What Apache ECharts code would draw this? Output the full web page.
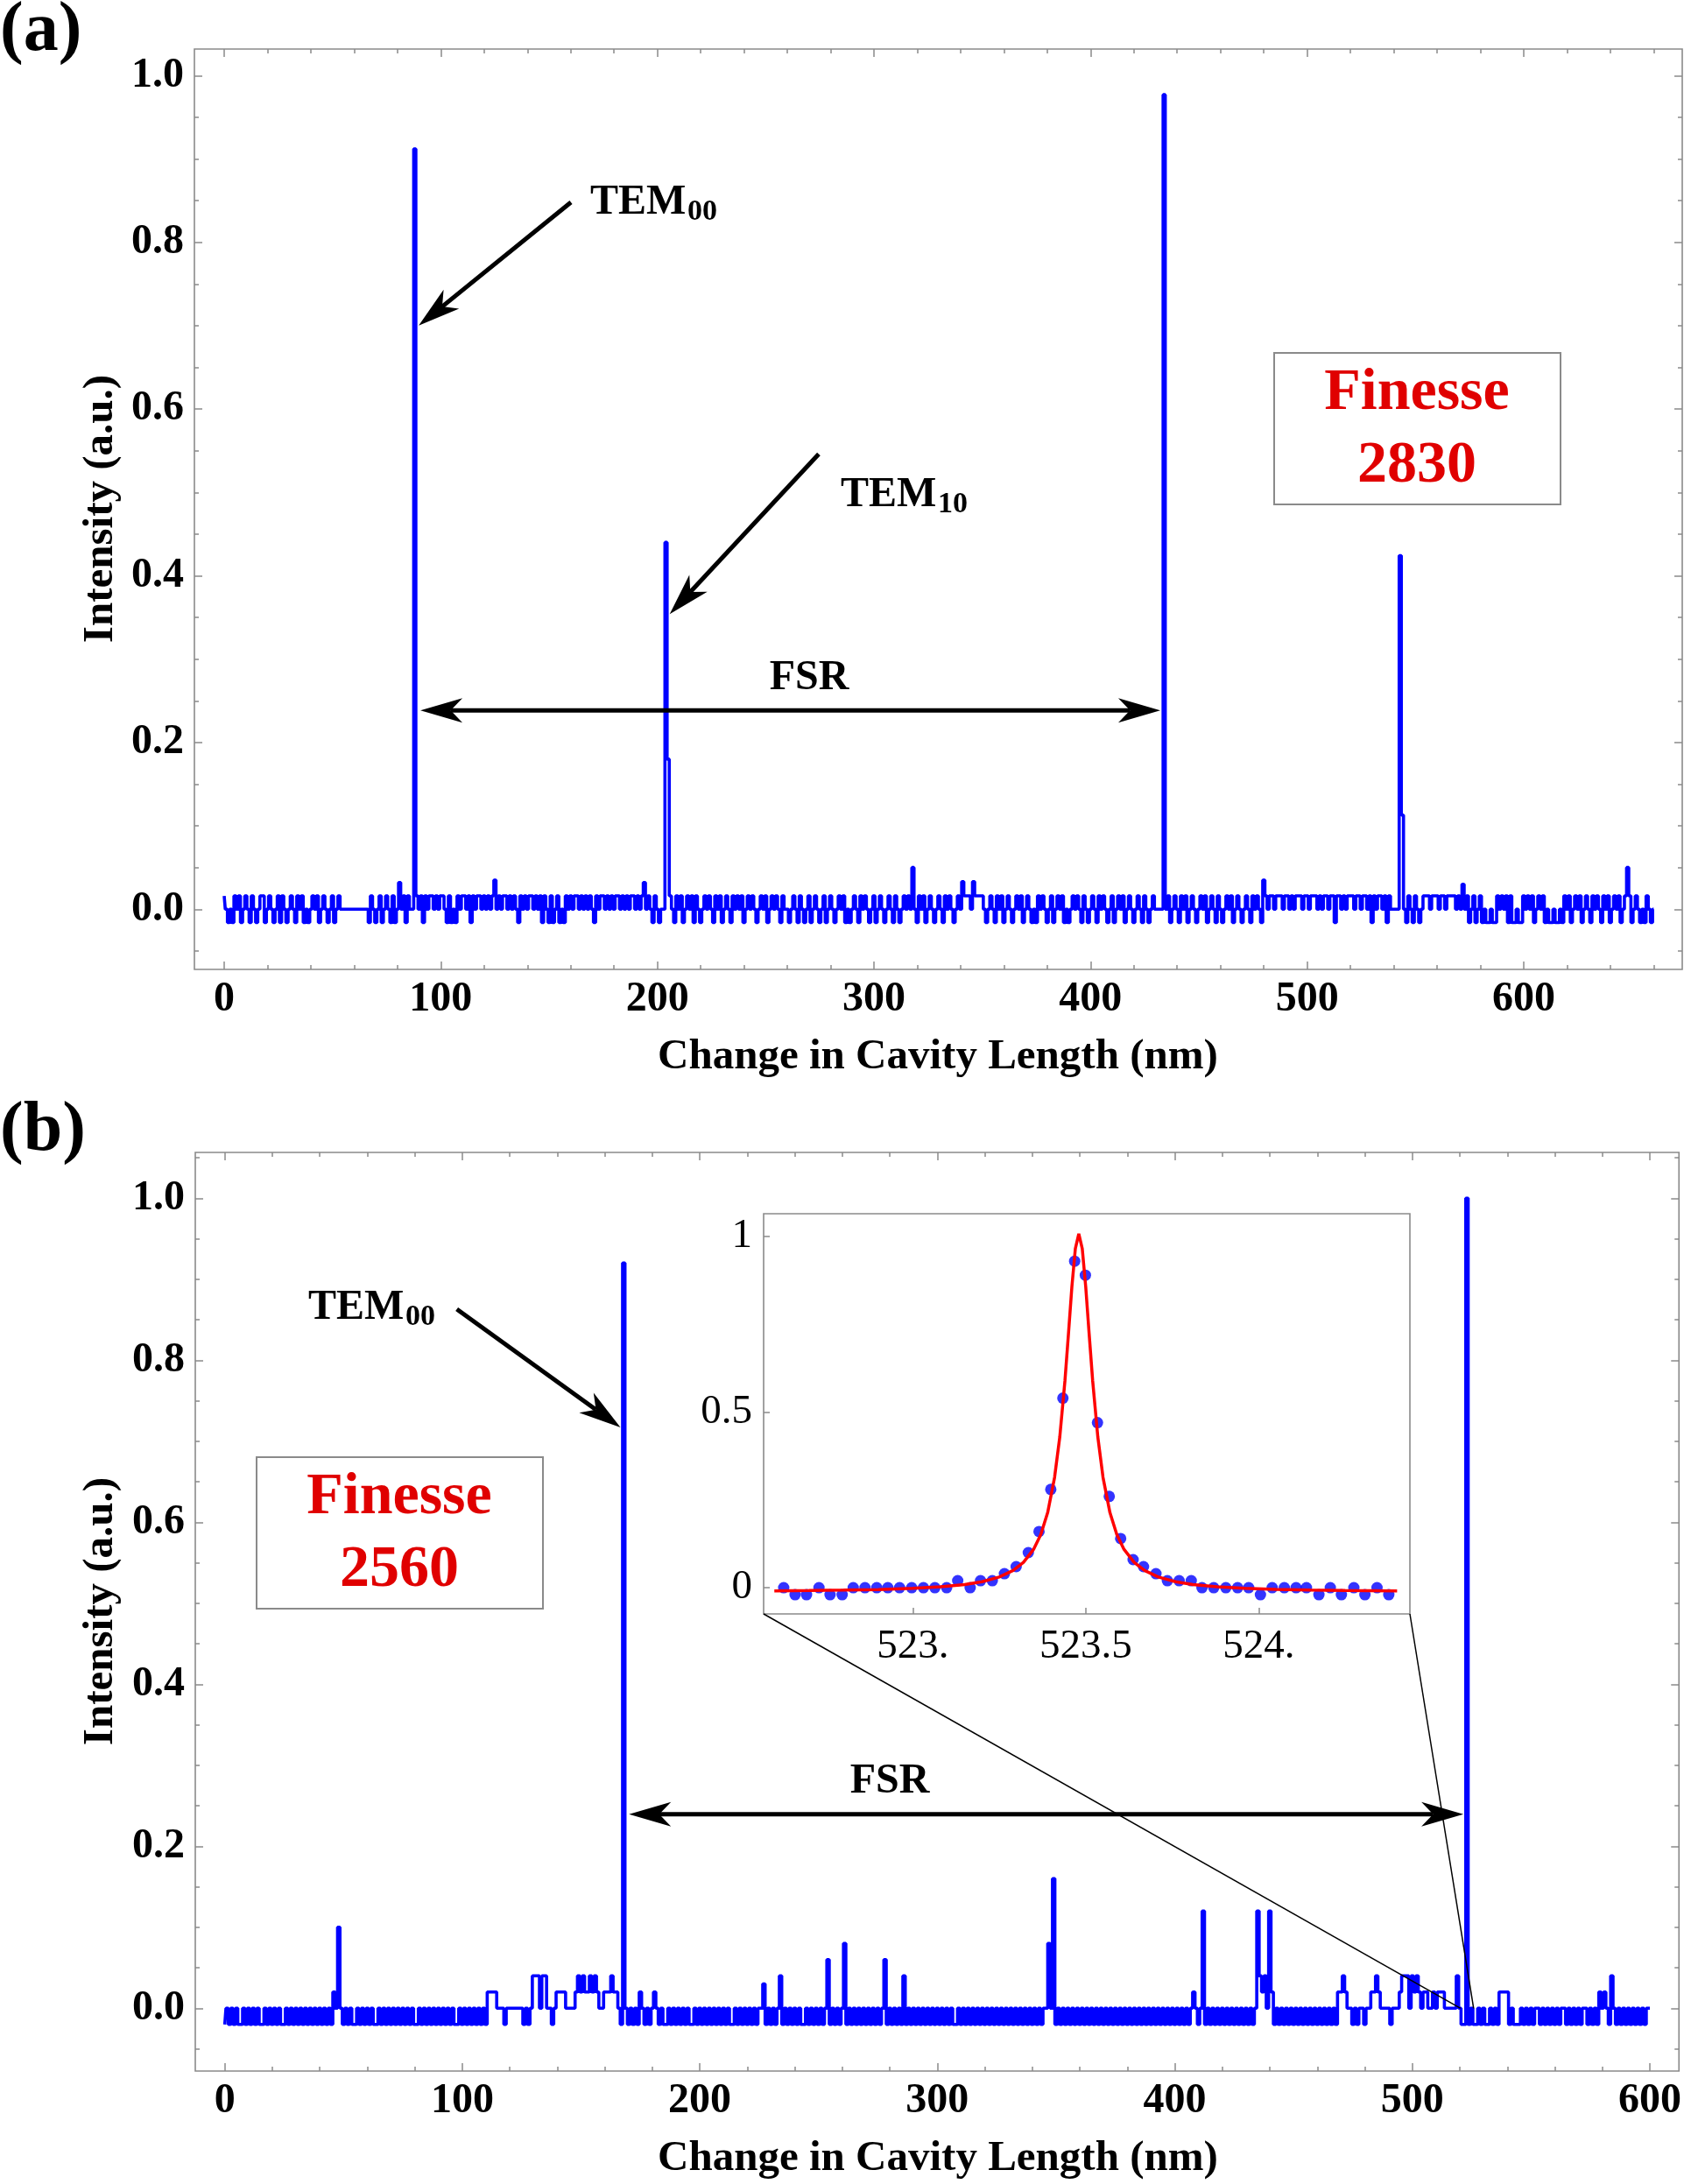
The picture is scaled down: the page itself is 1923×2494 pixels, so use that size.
<!DOCTYPE html>
<html><head><meta charset="utf-8">
<script src="https://cdn.jsdelivr.net/npm/echarts@6/dist/echarts.min.js"></script>
<style>html,body{margin:0;padding:0;background:#fff}#c{width:1923px;height:2494px}</style>
</head><body><div id="c"></div>
<script>
// ================= DATA =================
// tick values
const xMajorA = [0, 100, 200, 300, 400, 500, 600];
const xMinorA = [20,40,60,80,120,140,160,180,220,240,260,280,320,340,360,380,420,440,460,480,520,540,560,580,620,640,660];
const xMajorB = [0, 100, 200, 300, 400, 500, 600];
const xMinorB = [20,40,60,80,120,140,160,180,220,240,260,280,320,340,360,380,420,440,460,480,520,540,560,580];
const yMajor = [0, 0.2, 0.4, 0.6, 0.8, 1.0];
const yMinorA = [-0.05,0.05,0.1,0.15,0.25,0.3,0.35,0.45,0.5,0.55,0.65,0.7,0.75,0.85,0.9,0.95];
const yMinorB = [-0.05,0.05,0.1,0.15,0.25,0.3,0.35,0.45,0.5,0.55,0.65,0.7,0.75,0.85,0.9,0.95,1.05];
const xTicksInset = [523, 523.5, 524];
const yTicksInset = [0, 0.5, 1];

// panel (a): detector noise levels (one char per nm) and peaks
const levelsA = { '0': 0, '+': 0.016, '-': -0.016 };
const noiseA = [
  [0,   "+0-0-+0+-0+0-+0-0++-0+0-0+-+0-0+0-+0+-0-0+0+-0+0-0+-0+0"],
  [66,  "0-+0-0+-0+0-+-0+"],
  [82,  "0+-+0"],
  [89,  "+0+"], [92, "-"], [93, "+0++0+0++0"], [103, "-+-0-+"], [109, "0++0+"], [114, "-"],
  [115, "+0++0+0+0++0+0++0+0+0"], [136, "-"], [137, "+0+0++0+0+"], [147, "-+0-+-0+-0-"],
  [158, "+0+0++0+0+0+0"], [171, "-"], [172, "+0++0+0+0++0+0+0++0+0+"], [195, "0+0-+0-0"],
  [206, "+0-+0+-0+0+-+0-0+0+0-+0+-0+0-+0+0+-0+0+0-0+0+-0+0+0-+0"],
  [261, "-0+0-+0-0+-0+0-0+-0+0-0+0+-0-0+0-+0+0-0+-0+0-0+0-+0-0+0+"],
  [319, "0-+0+-0+0-0+0-+0+0-0"],
  [339, "+0++++0+++++"],
  [351, "0-0+0-+0+-0+0-0+0+-0+0-0-+0+0-0+-0+0+-0-0+0+0-+0-0+0-+0+0-0+-0+0+-0+0-0+0-+0-0+"],
  [435, "0+-0+0-+0+-0+0-0+0+-0+0-+0-0+0+-0+0-0+0-+0+0-"],
  [481, "+0++0+++0++0+0+++0++0+++0+0++0++-++0+0+++0++0++0+-+0++0+-+0"],
  [545, "0-+0-+0-0+"],
  [555, "++0+++0++0++++0+"],
  [573, "0+-0+-0+"], [581, "-0--0--"], [588, "+0+0+-+"], [595, "--0--"],
  [600, "+0+0+-0+0+"], [610, "-0--0--0-"],
  [619, "+0+-0+0+-0+0-+0+0-+0+-0+0+-0+"], [649, "+"],
  [650, "-0+0-0-+0-0"]
];
const peaksA = [
  [81, 0.032], [88, 0.912], [125, 0.035], [194, 0.032], [204, 0.44], [205, 0.18],
  [318, 0.05], [341, 0.033], [346, 0.033], [434, 0.977], [480, 0.035],
  [543, 0.424], [544, 0.113], [572, 0.03], [648, 0.05]
];

// panel (b)
const levelsB = { '0': 0, '+': 0.02, '-': -0.02, '2': 0.04 };
const noiseB = [
  [0,   "-0-0-0--0-0-0-0--0-0-0-0--0-0-0-0-0-"],
  [36,  "0-0-0-0-0-"], [46, "+0"],
  [49,  "0-0-0--0-0-0-0--0-0-0-0-0-0-0-0--0-0-0-0-0-0-0-0--0-0-0-0-0-0-"],
  [111, "++++"], [115, "000-0000000-0-0"], [130, "222022"], [136, "00-0"],
  [140, "++++"], [144, "0000"], [148, "+2+2++2+2+00+++2+"], [165, "+0-"],
  [169, "0-0-0-+0-0-0+0-0-"],
  [186, "-0-0-0-0-0--0-0-0-0-0-0-0-0--0-0-0-0-0-0"],
  [228, "-0-0-0"], [234, "2"], [235, "-0-0-0-0--0-0-0-0-0"], [255, "-0-0-0"],
  [262, "-0-0-0-0-0-0-0-0"], [279, "-0-0-0-"],
  [287, "-0-0-0-0-0-0-0-0-0-0--0-0-0-0-0-0-0-0-0-0-0-0-0-0-0-0-0-0-0"],
  [348, "0"],
  [350, "-0-0-0-0-0-0-0-0-0-0-0-0-0-0-0-0-0-0-0-0-0-0-0-0-0-0-0-0-0"],
  [407, "0+0-0"], [413, "-0-0-0-0-0-0-0-0-0-0-0"],
  [436, "2+2"], [439, "0"], [441, "+"],
  [442, "-0-0-0-0-0-0-0-0-0-0-0-0-0-"],
  [469, "++2+"], [473, "00-0-00-00"], [483, "++2+"], [487, "0000-000"],
  [495, "+22202+2"], [503, "+0++00+0+++"], [514, "00000"], [519, "2"], [520, "0--"],
  [524, "-0--0-0--0-0-"], [537, "++++"], [541, "-0--"],
  [545, "-0-0-0-00-0-0-0-0-00-0-0-0-0"],
  [573, "0-0-0-+0+0-2"], [585, "0-0-0-0-0-0-0-0"]
];
const peaksB = [
  [48, 0.10], [168, 0.92], [227, 0.03], [254, 0.06], [261, 0.08], [278, 0.06],
  [286, 0.04], [347, 0.08], [349, 0.16], [412, 0.12], [435, 0.12], [440, 0.12], [523, 1.0]
];

// inset: measured points and fitted curve
const insetX = [522.627,522.660,522.693,522.729,522.761,522.796,522.828,522.862,522.896,522.928,
  522.962,522.997,523.031,523.064,523.098,523.130,523.166,523.196,523.230,523.265,523.299,523.334,
  523.365,523.399,523.434,523.468,523.499,523.534,523.568,523.601,523.637,523.667,523.703,523.736,
  523.770,523.805,523.836,523.870,523.905,523.939,523.971,524.005,524.039,524.074,524.108,524.138,
  524.174,524.207,524.239,524.275,524.307,524.342,524.376];
const insetY = [0,-0.02,-0.02,0,-0.02,-0.02,0,0,0,0,
  0,0,0,0,0,0.02,0,0.02,0.02,0.04,0.06,0.10,
  0.16,0.28,0.54,0.93,0.89,0.47,0.26,0.14,0.08,0.06,0.04,0.02,
  0.02,0.02,0,0,0,0,0,-0.02,0,0,0,0,
  -0.02,0,-0.02,0,-0.02,0,-0.02];
const fitX = [522.60,522.70,522.80,522.90,523.00,523.08,523.15,523.20,523.25,523.29,523.32,523.35,
  523.37,523.39,523.41,523.425,523.44,523.45,523.46,523.47,523.48,523.49,523.50,523.51,523.52,
  523.535,523.55,523.57,523.59,523.61,523.64,523.67,523.71,523.76,523.81,523.88,523.96,524.05,
  524.15,524.25,524.40];
const fitY = [-0.0090,-0.0082,-0.0069,-0.0051,-0.0019,0.0025,0.0091,0.0171,0.0306,0.0492,0.0722,0.1104,
  0.1512,0.2139,0.3142,0.4290,0.5900,0.7215,0.8571,0.9656,1.008,0.9656,0.8571,0.7215,0.5900,
  0.4290,0.3142,0.2139,0.1512,0.1104,0.0722,0.0492,0.0306,0.0171,0.0091,0.0025,-0.0019,-0.0048,
  -0.0068,-0.0081,-0.0092];

// ================= BUILD =================
function buildLine(xEnd, levels, segs, peaks) {
  const y = new Array(xEnd + 1).fill(0);
  for (const [s, str] of segs) for (let i = 0; i < str.length; i++) { const x = s + i; if (x <= xEnd) y[x] = levels[str[i]]; }
  for (const [x, v] of peaks) y[x] = v;
  return y.map((v, i) => [i, v]);
}
const dataA = buildLine(660, levelsA, noiseA, peaksA);
const dataB = buildLine(600, levelsB, noiseB, peaksB);
const dataInset = insetX.map((x, i) => [x, insetY[i]]);
const dataFit = fitX.map((x, i) => [x, fitY[i]]);

const F = "'Times New Roman','Liberation Serif',serif";
const GRAY = '#8a8a8a';

function xAx(grid, pos, min, max, ticks, len, label) {
  return {
    type: 'value', gridIndex: grid, position: pos, min, max,
    axisLine: { show: false, onZero: false }, splitLine: { show: false },
    axisTick: { show: ticks.length > 0, inside: true, length: len, customValues: ticks, lineStyle: { color: GRAY, width: 1.5 } },
    axisLabel: label ? Object.assign({ show: true, customValues: ticks, color: '#000', fontFamily: F }, label) : { show: false }
  };
}
const yAx = xAx;

const bigLbl = { fontSize: 48, fontWeight: 'bold', margin: 11 };
const fmtX = v => String(Math.round(v));
const fmtY = v => v.toFixed(1);

const A = { xmin: -13.75, xmax: 673.2, ymin: -0.0722, ymax: 1.0318 };
const B = { xmin: -12.41, xmax: 612.26, ymin: -0.0775, ymax: 1.0565 };
const I = { xmin: 522.569, xmax: 524.437, ymin: -0.0746, ymax: 1.065 };

const option = {
  animation: false,
  backgroundColor: '#fff',
  grid: [
    { left: 222, top: 56, width: 1699, height: 1051, show: true, borderColor: GRAY, borderWidth: 1.6, backgroundColor: 'transparent' },
    { left: 223, top: 1316, width: 1696, height: 1049, show: true, borderColor: GRAY, borderWidth: 1.6, backgroundColor: 'transparent' },
    { left: 872, top: 1386, width: 738, height: 457, show: true, borderColor: GRAY, borderWidth: 1.6, backgroundColor: '#fff', z: 5 }
  ],
  xAxis: [
    xAx(0, 'bottom', A.xmin, A.xmax, xMajorA, 9, Object.assign({ formatter: fmtX }, bigLbl)),
    xAx(0, 'bottom', A.xmin, A.xmax, xMinorA, 5, null),
    xAx(0, 'top', A.xmin, A.xmax, xMajorA, 9, null),
    xAx(0, 'top', A.xmin, A.xmax, xMinorA, 5, null),
    xAx(1, 'bottom', B.xmin, B.xmax, xMajorB, 9, Object.assign({ formatter: fmtX }, bigLbl)),
    xAx(1, 'bottom', B.xmin, B.xmax, xMinorB, 5, null),
    xAx(1, 'top', B.xmin, B.xmax, xMajorB, 9, null),
    xAx(1, 'top', B.xmin, B.xmax, xMinorB, 5, null),
    Object.assign(xAx(2, 'bottom', I.xmin, I.xmax, xTicksInset, 7,
      { fontSize: 47, fontWeight: 'normal', margin: 14, formatter: v => Number.isInteger(v) ? v + '.' : v.toFixed(1) }), { z: 6 })
  ],
  yAxis: [
    yAx(0, 'left', A.ymin, A.ymax, yMajor, 9, Object.assign({ formatter: fmtY }, bigLbl, { margin: 12 })),
    yAx(0, 'left', A.ymin, A.ymax, yMinorA, 5, null),
    yAx(0, 'right', A.ymin, A.ymax, yMajor, 9, null),
    yAx(0, 'right', A.ymin, A.ymax, yMinorA, 5, null),
    yAx(1, 'left', B.ymin, B.ymax, yMajor, 9, Object.assign({ formatter: fmtY }, bigLbl, { margin: 12 })),
    yAx(1, 'left', B.ymin, B.ymax, yMinorB, 5, null),
    yAx(1, 'right', B.ymin, B.ymax, yMajor, 9, null),
    yAx(1, 'right', B.ymin, B.ymax, yMinorB, 5, null),
    Object.assign(yAx(2, 'left', I.ymin, I.ymax, yTicksInset, 7,
      { fontSize: 47, fontWeight: 'normal', margin: 13, formatter: v => v === 0.5 ? '0.5' : String(v) }), { z: 6 })
  ],
  series: [
    { type: 'line', xAxisIndex: 0, yAxisIndex: 0, data: dataA, step: 'middle', showSymbol: false, symbol: 'none',
      lineStyle: { color: '#0000ff', width: 3.6 }, clip: true, z: 2 },
    { type: 'line', xAxisIndex: 4, yAxisIndex: 4, data: dataB, step: 'middle', showSymbol: false, symbol: 'none',
      lineStyle: { color: '#0000ff', width: 3.6 }, clip: true, z: 2 },
    { type: 'scatter', xAxisIndex: 8, yAxisIndex: 8, data: dataInset, symbol: 'circle', symbolSize: 13,
      itemStyle: { color: '#0000ff' }, z: 7 },
    { type: 'line', xAxisIndex: 8, yAxisIndex: 8, data: dataFit, showSymbol: false, symbol: 'none',
      lineStyle: { color: '#ff0000', width: 3.5 }, z: 8 }
  ]
};

const chart = echarts.init(document.getElementById('c'), null, { renderer: 'canvas' });
chart.setOption(option);

// ================= ANNOTATIONS =================
const px = (s, p) => chart.convertToPixel({ seriesIndex: s }, p);
function arrow(p0, p1, both) {
  const L = 48, W = 28, N = 0.72, els = [];
  const dx = p1[0] - p0[0], dy = p1[1] - p0[1], len = Math.hypot(dx, dy), ux = dx / len, uy = dy / len, qx = -uy, qy = ux;
  const head = (t, sx, sy) => {
    const bx = t[0] - sx * L, by = t[1] - sy * L;
    return { type: 'polygon', z: 50, shape: { points: [[t[0], t[1]], [bx + qx * W / 2, by + qy * W / 2], [t[0] - sx * L * N, t[1] - sy * L * N], [bx - qx * W / 2, by - qy * W / 2]] }, style: { fill: '#000' } };
  };
  let a = p0, b = [p1[0] - ux * L * N, p1[1] - uy * L * N];
  els.push(head(p1, ux, uy));
  if (both) { a = [p0[0] + ux * L * N, p0[1] + uy * L * N]; els.push(head(p0, -ux, -uy)); }
  els.push({ type: 'line', z: 49, shape: { x1: a[0], y1: a[1], x2: b[0], y2: b[1] }, style: { stroke: '#000', lineWidth: 5 } });
  return els;
}
function text(x, y, s, size, extra) {
  return { type: 'text', x, y, z: 60, style: Object.assign({ text: s, fontSize: size, fontWeight: 'bold', fontFamily: F, fill: '#000', align: 'center', verticalAlign: 'middle' }, extra || {}) };
}
function tem(x, y, sub) {
  return [
    text(x, y, 'TEM', 48, { align: 'left' }),
    text(x + 111, y + 10, sub, 34, { align: 'left' })
  ];
}
function box(x, y, w, h) {
  return { type: 'rect', z: 40, shape: { x, y, width: w, height: h }, style: { fill: '#fff', stroke: GRAY, lineWidth: 2 } };
}
const RED = '#e00000';
let g = [];
// panel labels
g.push(text(0, 36, '(a)', 80, { align: 'left' }));
g.push(text(0, 1292, '(b)', 80, { align: 'left' }));
// axis titles
g.push(text(1071, 1207, 'Change in Cavity Length (nm)', 49));
g.push(text(1071, 2465, 'Change in Cavity Length (nm)', 49));
g.push(Object.assign(text(115, 581, 'Intensity (a.u.)', 49), { rotation: Math.PI / 2 }));
g.push(Object.assign(text(115, 1840, 'Intensity (a.u.)', 49), { rotation: Math.PI / 2 }));
// panel (a) annotations
g = g.concat(arrow(px(0, [160.1, 0.848]), px(0, [89.8, 0.70]), false));
g = g.concat(tem(674, 232, '00'));
g = g.concat(arrow(px(0, [274.5, 0.546]), px(0, [205.7, 0.354]), false));
g = g.concat(tem(960, 566, '10'));
g = g.concat(arrow(px(0, [90.6, 0.2385]), px(0, [432.2, 0.2385]), true));
g.push(text(924, 775, 'FSR', 48));
g.push(box(1455, 403, 327, 173));
g.push(text(1618, 449, 'Finesse', 68, { fill: RED }));
g.push(text(1618, 532, '2830', 68, { fill: RED }));
// panel (b) annotations
g = g.concat(arrow(px(1, [97.7, 0.863]), px(1, [166.6, 0.717]), false));
g = g.concat(tem(352, 1494, '00'));
g = g.concat(arrow(px(1, [170.2, 0.2396]), px(1, [521.5, 0.2396]), true));
g.push(text(1016, 2035, 'FSR', 48));
g.push(box(293, 1664, 327, 173));
g.push(text(456, 1710, 'Finesse', 68, { fill: RED }));
g.push(text(456, 1793, '2560', 68, { fill: RED }));
// inset connector lines
const c1 = px(1, [520.3, 0]), c2 = px(1, [525.8, 0]);
g.push({ type: 'line', z: 45, shape: { x1: 872, y1: 1843, x2: c1[0], y2: c1[1] }, style: { stroke: '#000', lineWidth: 1.5 } });
g.push({ type: 'line', z: 45, shape: { x1: 1610, y1: 1843, x2: c2[0], y2: c2[1] }, style: { stroke: '#000', lineWidth: 1.5 } });

chart.setOption({ graphic: { elements: g } });
</script>
</body></html>
